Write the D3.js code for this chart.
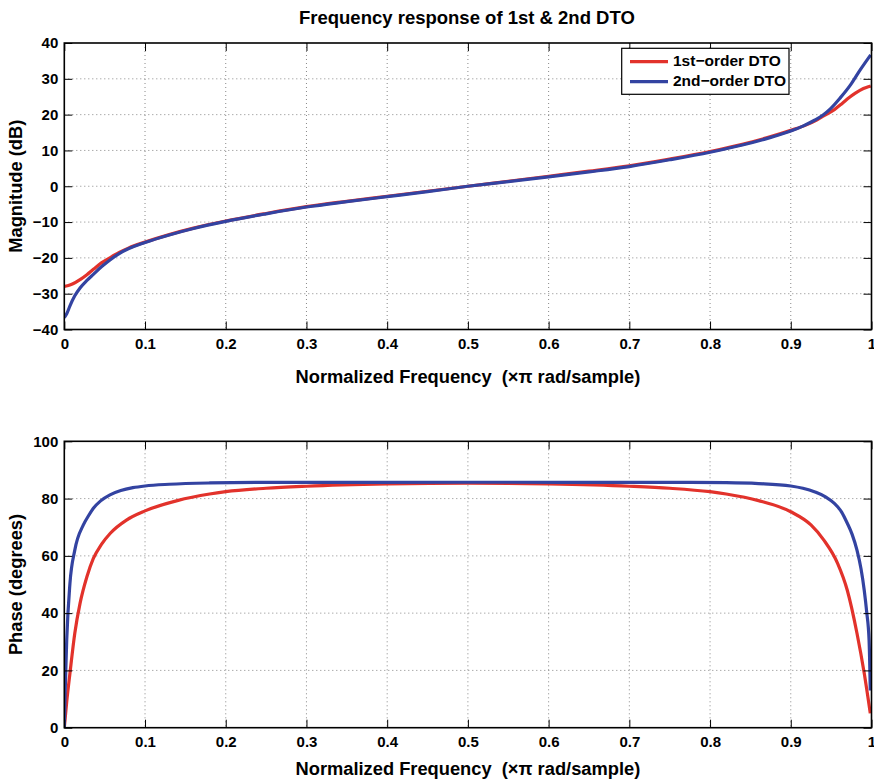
<!DOCTYPE html>
<html>
<head>
<meta charset="utf-8">
<script src="https://cdn.jsdelivr.net/npm/d3@7"></script>
<style>
  html, body { margin: 0; padding: 0; background: #fff; }
  svg { display: block; }
  text { font-family: "Liberation Sans", Arial, Helvetica, sans-serif; font-weight: bold; fill: #000; white-space: pre; }
</style>
</head>
<body>
<script>
// Magnitude (dB) of the 1st-order DTO against normalized frequency (x pi rad/sample)
const magFreqFirst = [0, 0.004, 0.01, 0.02, 0.028, 0.036, 0.046, 0.057, 0.068, 0.08, 0.1, 0.13, 0.16, 0.2, 0.25, 0.3, 0.35, 0.4, 0.45,
                      0.5, 0.55, 0.6, 0.65, 0.7, 0.75, 0.8, 0.84, 0.87, 0.9, 0.92, 0.932, 0.943, 0.954, 0.964, 0.972, 0.98, 0.99, 0.996, 0.999];
const magFirst = [-28.0, -27.8, -27.3, -26.0, -24.7, -23.2, -21.4, -19.9, -18.5, -17.2, -15.6, -13.5, -11.7, -9.7, -7.6, -5.7, -4.2, -2.8, -1.4,
                  0, 1.4, 2.8, 4.2, 5.7, 7.6, 9.7, 11.7, 13.5, 15.6, 17.2, 18.5, 19.9, 21.4, 23.2, 24.7, 26.0, 27.3, 27.8, 28.0];

// Magnitude (dB) of the 2nd-order DTO
const magFreqSecond = [0, 0.003, 0.007, 0.013, 0.0195, 0.028, 0.036, 0.046, 0.057, 0.068, 0.08, 0.1, 0.13, 0.16, 0.2, 0.25, 0.3, 0.35, 0.4, 0.45,
                       0.5, 0.55, 0.6, 0.65, 0.7, 0.75, 0.8, 0.84, 0.87, 0.9, 0.915, 0.93, 0.94, 0.949, 0.961, 0.974, 0.986, 0.999];
const magSecond = [-36.7, -35.6, -33.4, -30.6, -28.4, -26.3, -24.6, -22.5, -20.5, -18.8, -17.4, -15.7, -13.6, -11.8, -9.8, -7.7, -5.8, -4.3, -2.9, -1.5,
                   0, 1.3, 2.6, 4.0, 5.5, 7.4, 9.5, 11.5, 13.3, 15.4, 16.8, 18.5, 19.9, 21.6, 24.6, 28.3, 32.5, 36.7];

// Phase (degrees)
const phaseFreqFirst = [0, 0.003, 0.007, 0.013, 0.0195, 0.028, 0.036, 0.046, 0.057, 0.077, 0.1, 0.14, 0.18, 0.2, 0.25, 0.3, 0.4,
                        0.5, 0.6, 0.7, 0.75, 0.8, 0.82, 0.86, 0.9, 0.925, 0.941, 0.958, 0.97, 0.982, 0.991, 0.9985];
const phaseFirst = [0, 9, 19, 33, 43.4, 52.7, 59.1, 64, 67.9, 72.5, 75.7, 79.3, 81.6, 82.4, 83.6, 84.3, 85.1,
                    85.4, 85.1, 84.3, 83.6, 82.4, 81.6, 79.3, 75.4, 70.8, 65.5, 57.4, 48, 33, 19, 5];
const phaseFreqSecond = [0, 0.001, 0.003, 0.007, 0.013, 0.0236, 0.03, 0.036, 0.045, 0.0566, 0.07, 0.085, 0.1, 0.13, 0.18, 0.25, 0.5,
                         0.75, 0.82, 0.86, 0.9, 0.915, 0.93, 0.943, 0.954, 0.963, 0.97, 0.976, 0.982, 0.987, 0.991, 0.994, 0.997, 0.9985];
const phaseSecond = [0, 12, 30.6, 50.4, 62, 70.8, 74, 76.6, 79.2, 81.3, 82.8, 83.8, 84.4, 85.0, 85.45, 85.65, 85.7,
                     85.65, 85.55, 85.25, 84.4, 83.6, 82.3, 80.6, 78.3, 75.3, 71.4, 67.5, 62, 55.5, 48, 40.5, 30.6, 13];

const xTicks = [0, 0.1, 0.2, 0.3, 0.4, 0.5, 0.6, 0.7, 0.8, 0.9, 1];
const magTicks = [-40, -30, -20, -10, 0, 10, 20, 30, 40];
const phaseTicks = [0, 20, 40, 60, 80, 100];

const seriesNames = ["1st\u2212order DTO", "2nd\u2212order DTO"];
const colors = ["#e2322b", "#3343a1"];

const W = 874, H = 779;
const svg = d3.select("body").append("svg").attr("width", W).attr("height", H);

const left = 64.3, right = 871.5;
const x = d3.scaleLinear().domain([0, 1]).range([left, right]);

function panel(top, bottom, domain, yTicks, yLabel, xLabelBaseline, series, id) {
  const y = d3.scaleLinear().domain(domain).range([bottom, top]);
  const g = svg.append("g");

  g.append("clipPath").attr("id", id).append("rect")
    .attr("x", left).attr("y", top).attr("width", right - left).attr("height", bottom - top);

  // dotted grid
  const grid = g.append("g").attr("stroke", "#7a7a7a").attr("stroke-width", 0.9).attr("stroke-dasharray", "1,3");
  xTicks.slice(1, -1).forEach(t => grid.append("line")
    .attr("x1", x(t)).attr("x2", x(t)).attr("y1", top).attr("y2", bottom));
  yTicks.slice(1, -1).forEach(t => grid.append("line")
    .attr("x1", left).attr("x2", right).attr("y1", y(t)).attr("y2", y(t)));

  // curves
  const line = d3.line().x(d => x(d[0])).y(d => y(d[1])).curve(d3.curveMonotoneX);
  const cg = g.append("g").attr("clip-path", `url(#${id})`);
  series.forEach((s, i) => {
    cg.append("path")
      .attr("d", line(d3.zip(s.f, s.v)))
      .attr("fill", "none").attr("stroke", colors[i]).attr("stroke-width", 3.2)
      .attr("stroke-linejoin", "round");
  });

  // axes with inward ticks on every side
  const tl = 8;
  const axB = g.append("g").attr("transform", `translate(0,${bottom})`)
    .call(d3.axisBottom(x).tickValues(xTicks).tickSize(-tl).tickSizeOuter(0).tickPadding(9)
      .tickFormat(d => d === 0 ? "0" : d === 1 ? "1" : d3.format(".1f")(d)));
  const axT = g.append("g").attr("transform", `translate(0,${top})`)
    .call(d3.axisTop(x).tickValues(xTicks).tickSize(-tl).tickSizeOuter(0).tickFormat(""));
  const axL = g.append("g").attr("transform", `translate(${left},0)`)
    .call(d3.axisLeft(y).tickValues(yTicks).tickSize(-tl).tickSizeOuter(0).tickPadding(6)
      .tickFormat(d => d < 0 ? "\u2212" + Math.abs(d) : d));
  const axR = g.append("g").attr("transform", `translate(${right},0)`)
    .call(d3.axisRight(y).tickValues(yTicks).tickSize(-tl).tickSizeOuter(0).tickFormat(""));
  [axB, axT, axL, axR].forEach(a => {
    a.select(".domain").remove();
    a.selectAll(".tick line").attr("stroke", "#000").attr("stroke-width", 1);
    a.selectAll("text").attr("font-size", 15).attr("font-family", "Liberation Sans, Arial, sans-serif")
      .attr("font-weight", "bold").attr("fill", "#000");
  });
  axB.selectAll("text").attr("dy", "0.71em");

  g.append("rect").attr("x", left).attr("y", top).attr("width", right - left).attr("height", bottom - top)
    .attr("fill", "none").attr("stroke", "#000").attr("stroke-width", 1.6);

  g.append("text").attr("x", (left + right) / 2).attr("y", xLabelBaseline)
    .attr("text-anchor", "middle").attr("font-size", 18.3)
    .text("Normalized Frequency  (\u00d7\u03c0 rad/sample)");

  g.append("text").attr("transform", `translate(17,${(top + bottom) / 2}) rotate(-90)`)
    .attr("text-anchor", "middle").attr("dominant-baseline", "middle").attr("font-size", 18.3)
    .text(yLabel);
  return y;
}

svg.append("text").attr("x", (left + right) / 2 - 1).attr("y", 23.5)
  .attr("text-anchor", "middle").attr("font-size", 18.5)
  .text("Frequency response of 1st & 2nd DTO");

panel(43, 329.5, [-40, 40], magTicks, "Magnitude (dB)", 383.3,
  [{ f: magFreqFirst, v: magFirst }, { f: magFreqSecond, v: magSecond }], "clipMag");
panel(441.3, 727.7, [0, 100], phaseTicks, "Phase (degrees)", 775,
  [{ f: phaseFreqFirst, v: phaseFirst }, { f: phaseFreqSecond, v: phaseSecond }], "clipPhase");

// legend
const lg = svg.append("g");
lg.append("rect").attr("x", 621.7).attr("y", 48.3).attr("width", 167.3).attr("height", 46)
  .attr("fill", "#fff").attr("stroke", "#000").attr("stroke-width", 1.2);
seriesNames.forEach((name, i) => {
  const yy = 61.7 + i * 20;
  lg.append("line").attr("x1", 630).attr("x2", 668).attr("y1", yy).attr("y2", yy)
    .attr("stroke", colors[i]).attr("stroke-width", 3.2);
  lg.append("text").attr("x", 673).attr("y", yy).attr("dominant-baseline", "middle")
    .attr("font-size", 15.5).text(name);
});
</script>
</body>
</html>
